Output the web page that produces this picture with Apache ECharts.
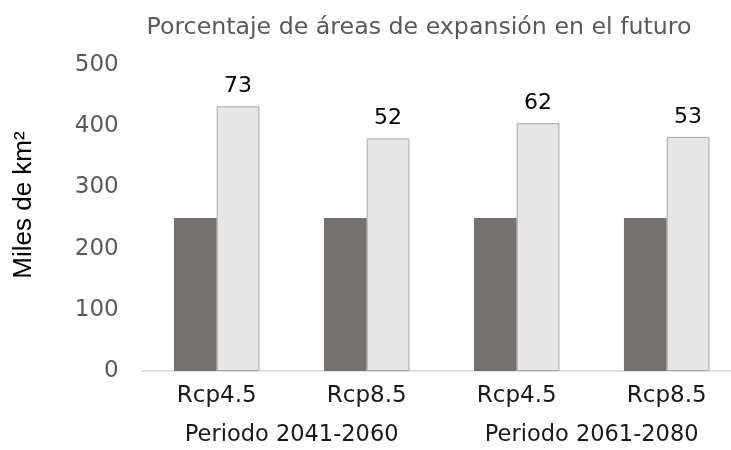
<!DOCTYPE html>
<html>
<head>
<meta charset="utf-8">
<script src="https://cdn.jsdelivr.net/npm/echarts@6/dist/echarts.min.js"></script>
<style>
html, body { margin: 0; padding: 0; background: #fff; }
#main { width: 731px; height: 450px; }
</style>
</head>
<body>
<div id="main"></div>
<script>
// escenarios y periodos
var categories = ['Rcp4.5', 'Rcp8.5', 'Rcp4.5', 'Rcp8.5'];
var periods = ['Periodo 2041-2060', 'Periodo 2061-2080'];
// miles de km2
var actualValues = [250, 250, 250, 250];
var futureValues = [432.5, 380, 405, 382.5];
// porcentaje de expansion
var percentLabels = ['73', '52', '62', '53'];
var yTicks = [0, 100, 200, 300, 400, 500];

var chart = echarts.init(document.getElementById('main'));

var option = {
	animation: false,
	textStyle: { fontFamily: 'DejaVu Sans' },
	title: {
		text: 'Porcentaje de áreas de expansión en el futuro',
		left: 414,
		top: 11,
		textAlign: 'center',
		textStyle: { color: '#595959', fontSize: 23.7, fontWeight: 'normal', fontFamily: 'DejaVu Sans' }
	},
	grid: { left: 141.7, width: 600, top: 65, bottom: 79, outerBoundsMode: 'none', containLabel: false },
	xAxis: [{
		type: 'category',
		data: categories,
		axisLine: { lineStyle: { color: '#D9D9D9', width: 1.5 } },
		axisTick: { show: false },
		axisLabel: { color: '#1a1a1a', fontSize: 23, margin: 14 }
	}, {
		type: 'category',
		data: periods,
		position: 'bottom',
		axisLine: { show: false },
		axisTick: { show: false },
		axisLabel: { color: '#1a1a1a', fontSize: 22.5, margin: 53 }
	}],
	yAxis: {
		type: 'value',
		min: yTicks[0],
		max: yTicks[yTicks.length - 1],
		interval: 100,
		name: 'Miles de km²',
		nameLocation: 'middle',
		nameGap: 105,
		nameRotate: 90,
		nameTextStyle: { color: '#000', fontSize: 26, fontFamily: 'Liberation Sans', padding: [0, 0, 0, 26] },
		axisLine: { show: false },
		axisTick: { show: false },
		splitLine: { show: false },
		axisLabel: { color: '#595959', fontSize: 23, margin: 23 }
	},
	series: [{
		name: 'actual',
		type: 'bar',
		data: actualValues,
		barGap: '0%',
		barCategoryGap: '43%',
		itemStyle: { color: '#767171' }
	}, {
		name: 'futuro',
		type: 'bar',
		data: futureValues,
		itemStyle: { color: '#E7E6E6', borderColor: '#A6A6A6', borderWidth: 1 },
		label: {
			show: true,
			position: 'top',
			distance: 9,
			color: '#000',
			fontSize: 22,
			formatter: function (p) { return percentLabels[p.dataIndex]; }
		}
	}]
};

chart.setOption(option);
</script>
</body>
</html>
